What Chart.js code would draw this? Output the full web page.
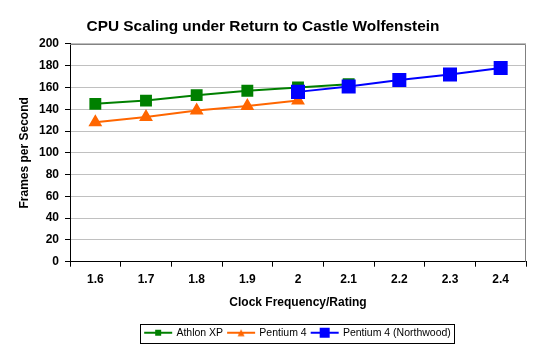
<!DOCTYPE html>
<html>
<head>
<meta charset="utf-8">
<script src="https://cdn.jsdelivr.net/npm/chart.js@4"></script>
<style>
  html, body { margin: 0; padding: 0; background: #fff; }
  #wrap { width: 542px; height: 352px; }
</style>
</head>
<body>
<div id="wrap"><canvas id="cpuChart" width="542" height="352"></canvas></div>
<script>
// ---- Data ----
const clockLabels = ["1.6", "1.7", "1.8", "1.9", "2", "2.1", "2.2", "2.3", "2.4"];
const athlonXP = [145, 148, 153, 157, 160, 163, null, null, null];
const pentium4 = [128, 133, 139, 143, 148, null, null, null, null];
const pentium4Northwood = [null, null, null, null, 156, 161, 167, 172, 178];
const yTicks = [0, 20, 40, 60, 80, 100, 120, 140, 160, 180, 200];

const FONT = "Arial, 'Liberation Sans', sans-serif";

// ---- Legend icon: short line with the marker ----
function legendIcon(color, style, size) {
  const c = document.createElement("canvas");
  c.width = 32; c.height = 12;
  const g = c.getContext("2d");
  g.strokeStyle = color;
  g.lineWidth = 2;
  g.beginPath();
  g.moveTo(2, 6); g.lineTo(30, 6);
  g.stroke();
  g.fillStyle = color;
  if (style === "triangle") {
    g.beginPath();
    g.moveTo(16, 6 - size / 2);
    g.lineTo(16 + size / 2, 6 + size / 2);
    g.lineTo(16 - size / 2, 6 + size / 2);
    g.closePath();
    g.fill();
  } else {
    g.fillRect(16 - size / 2, 6 - size / 2, size, size);
  }
  return c;
}

const legendIcons = [
  legendIcon("#008000", "rect", 6),
  legendIcon("#FF6600", "triangle", 7),
  legendIcon("#0000FF", "rect", 10)
];

// ---- Plot frame + legend box ----
const framePlugin = {
  id: "frame",
  beforeDatasetsDraw(chart) {
    const a = chart.chartArea;
    const ctx = chart.ctx;
    ctx.save();
    ctx.strokeStyle = "#808080";
    ctx.lineWidth = 1;
    ctx.beginPath();
    ctx.moveTo(a.left, a.top + 0.5);
    ctx.lineTo(a.right - 0.5, a.top + 0.5);
    ctx.lineTo(a.right - 0.5, a.bottom);
    ctx.stroke();
    ctx.restore();
  },
  afterDraw(chart) {
    const boxes = chart.legend.legendHitBoxes;
    if (!boxes || !boxes.length) return;
    let l = Infinity, r = -Infinity, t = Infinity, b = -Infinity;
    boxes.forEach(h => {
      l = Math.min(l, h.left); r = Math.max(r, h.left + h.width);
      t = Math.min(t, h.top); b = Math.max(b, h.top + h.height);
    });
    const ctx = chart.ctx;
    ctx.save();
    ctx.strokeStyle = "#000";
    ctx.lineWidth = 1;
    ctx.strokeRect(Math.round(l - 5) + 0.5, Math.round(t - 4) + 0.5, Math.round(r - l + 8), Math.round(b - t + 8));
    ctx.restore();
  }
};

const ctx = document.getElementById("cpuChart").getContext("2d");
const cpuChart = new Chart(ctx, {
  type: "line",
  data: {
    labels: clockLabels,
    datasets: [
      {
        label: "Athlon XP",
        data: athlonXP,
        borderColor: "#008000",
        backgroundColor: "#008000",
        borderWidth: 2,
        pointStyle: "rect",
        pointRadius: 7,
        order: 1
      },
      {
        label: "Pentium 4",
        data: pentium4,
        borderColor: "#FF6600",
        backgroundColor: "#FF6600",
        borderWidth: 2,
        pointStyle: "triangle",
        pointRadius: 6,
        order: 1
      },
      {
        label: "Pentium 4 (Northwood)",
        data: pentium4Northwood,
        borderColor: "#0000FF",
        backgroundColor: "#0000FF",
        borderWidth: 2,
        pointStyle: "rect",
        pointRadius: 8.5,
        order: 0
      }
    ]
  },
  options: {
    responsive: false,
    animation: false,
    layout: { padding: { left: 0, right: 16, top: 8, bottom: 4 } },
    plugins: {
      tooltip: { enabled: false },
      title: {
        display: true,
        text: "CPU Scaling under Return to Castle Wolfenstein",
        color: "#000",
        font: { family: FONT, size: 15.4, weight: "bold" },
        padding: { top: 10, bottom: 7.5 }
      },
      legend: {
        position: "bottom",
        fullSize: false,
        labels: {
          color: "#000",
          font: { family: FONT, size: 10.5 },
          usePointStyle: true,
          pointStyleWidth: 26,
          padding: 5,
          sort: (a, b) => a.datasetIndex - b.datasetIndex,
          generateLabels(chart) {
            return chart.data.datasets.map((ds, i) => ({
              text: ds.label,
              fillStyle: ds.backgroundColor,
              strokeStyle: ds.borderColor,
              lineWidth: 0,
              pointStyle: legendIcons[i],
              hidden: false,
              datasetIndex: i,
              fontColor: "#000"
            }));
          }
        }
      }
    },
    scales: {
      x: {
        offset: true,
        grid: {
          offset: true,
          drawOnChartArea: false,
          drawTicks: true,
          tickLength: 5,
          tickColor: "#000"
        },
        border: { color: "#000", width: 1 },
        ticks: {
          color: "#000",
          padding: 6,
          maxRotation: 0,
          font: { family: FONT, size: 12, weight: "bold" }
        },
        title: {
          display: true,
          text: "Clock Frequency/Rating",
          color: "#000",
          font: { family: FONT, size: 12, weight: "bold" },
          padding: { top: 2, bottom: 13 }
        }
      },
      y: {
        min: 0,
        max: 200,
        afterBuildTicks(scale) {
          scale.ticks = yTicks.map(v => ({ value: v }));
        },
        afterFit(scale) { scale.width = 70; },
        grid: {
          color: "#C0C0C0",
          tickLength: 5,
          tickColor: "#000"
        },
        border: { color: "#000", width: 1 },
        ticks: {
          color: "#000",
          padding: 6,
          font: { family: FONT, size: 12, weight: "bold" }
        },
        title: {
          display: true,
          text: "Frames per Second",
          color: "#000",
          font: { family: FONT, size: 12, weight: "bold" },
          padding: { top: 17, bottom: 0 }
        }
      }
    }
  },
  plugins: [framePlugin]
});
</script>
</body>
</html>
